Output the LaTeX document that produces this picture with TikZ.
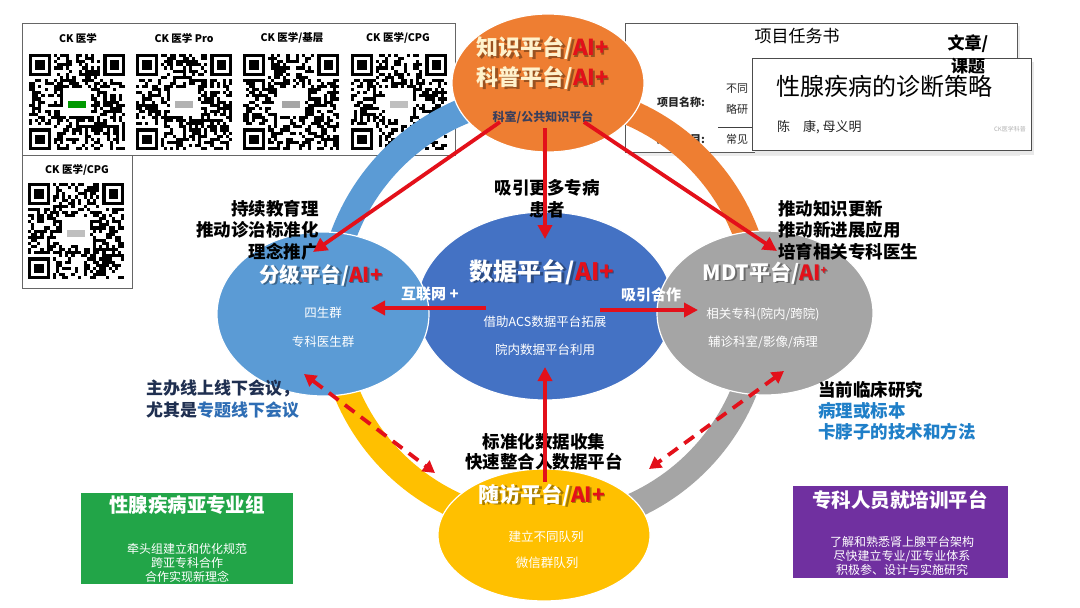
\documentclass[tikz,border=0pt]{standalone}
\usepackage{fontspec}
\setmainfont{Noto Sans CJK SC}
\usetikzlibrary{arrows.meta,calc,shapes.geometric}
\definecolor{ared}{HTML}{E3101A}
\definecolor{korange}{HTML}{EE7E32}
\definecolor{kcream}{HTML}{FFF2CC}
\definecolor{klblue}{HTML}{5B9BD5}
\definecolor{kdblue}{HTML}{4472C4}
\definecolor{kgray}{HTML}{A5A5A5}
\definecolor{kyellow}{HTML}{FFC000}
\definecolor{kgreen}{HTML}{22A548}
\definecolor{kpurple}{HTML}{7030A0}
\definecolor{knavy}{HTML}{1F2F50}
\definecolor{ktblue}{HTML}{2E6DB4}
\definecolor{ktblue2}{HTML}{1F7FC8}
\definecolor{kdarktxt}{HTML}{3A3F5C}

\newcommand\qrblock[4]{% x, y (top-left), seed, logo colour
  \begin{scope}[shift={(#1,#2)}]
    \pgfmathsetseed{#3}
    \foreach \i in {0,...,30}{\foreach \j in {0,...,30}{%
      \pgfmathrandominteger{\rr}{0}{1}%
      \ifnum\rr=1 \fill[black] (\i*3.1,\j*3.1) rectangle ++(3.1,3.1);\fi
    }}
    \foreach \a/\b in {0/0,24/0,0/24}{%
      \fill[white] ({(\a-1)*3.1},{(\b-1)*3.1}) rectangle ++(9*3.1,9*3.1);
      \fill[black] ({\a*3.1},{\b*3.1}) rectangle ++(7*3.1,7*3.1);
      \fill[white] ({(\a+1)*3.1},{(\b+1)*3.1}) rectangle ++(5*3.1,5*3.1);
      \fill[black] ({(\a+2)*3.1},{(\b+2)*3.1}) rectangle ++(3*3.1,3*3.1);
    }
    \fill[white] (11*3.1,11*3.1) rectangle ++(9*3.1,9*3.1);
    \fill[#4] (12.5*3.1,15*3.1) rectangle ++(6*3.1,2.5*3.1);
  \end{scope}
}

\newcommand\ptitle[6]{% name, x, y, text, size, colour
  \node[font=\bfseries\fontsize{#5}{#5}\selectfont, text=black, opacity=.35, inner sep=0] (#1s) at (#2+1.6,#3+1.6) {#4/AI+};
  \node[font=\bfseries\fontsize{#5}{#5}\selectfont, inner sep=0] (#1) at (#2,#3) {\textcolor{#6}{#4/}\textcolor{ared}{AI+}};
}

\begin{document}
\begin{tikzpicture}[x=1pt,y=-1pt,
  qrlabel/.style={font=\bfseries\fontsize{10.5}{12}\selectfont, inner sep=0},
  plat/.style={ellipse, draw=white, line width=1.2, inner sep=0},
  sm/.style={font=\fontsize{12.5}{15}\selectfont, text=white, inner sep=0},
  lbl/.style={font=\bfseries\fontsize{17.5}{21.5}\selectfont, inner sep=0},
  redarr/.style={draw=ared, line width=3.8, -{Triangle[length=14pt,width=14pt]}},
  dasharr/.style={draw=ared, line width=3.8, dash pattern=on 12pt off 8pt,
     {Triangle[length=12pt,width=13pt]}-{Triangle[length=12pt,width=13pt]}},
  boxtitle/.style={font=\bfseries\fontsize{19.5}{22}\selectfont, text=white, inner sep=0},
  boxbody/.style={font=\fontsize{12}{13.6}\selectfont, text=white, align=center, inner sep=0}
]
\useasboundingbox (0,0) rectangle (1080,608);
\fill[white] (0,0) rectangle (1080,608);

% ---------- QR panels ----------
\node[draw=gray!80!black, line width=1, minimum width=433, minimum height=132, inner sep=0] (qrpanel) at (238.5,89) {};
\node[draw=gray!80!black, line width=1, minimum width=110, minimum height=133, inner sep=0] (qrpanel2) at (77,221.5) {};
\node[qrlabel] (q1l) at (78,38) {CK 医学};
\node[qrlabel] (q2l) at (184,38) {CK 医学 Pro};
\node[qrlabel] (q3l) at (292,38) {CK 医学/基层};
\node[qrlabel] (q4l) at (398,38) {CK 医学/CPG};
\node[qrlabel] (q5l) at (77,170) {CK 医学/CPG};
\qrblock{29}{54}{11}{green!60!black}
\qrblock{136}{54}{23}{gray!60}
\qrblock{243}{54}{37}{gray!70}
\qrblock{351}{54}{41}{gray!50}
\qrblock{28}{183}{53}{gray!50}

% ---------- documents ----------
\fill[gray!15] (628,26) rectangle (1020,156);
\node[draw=gray!70!black, fill=white, line width=0.8, minimum width=392, minimum height=129, inner sep=0] (docback) at (821,87.5) {};
\node[font=\fontsize{17}{20}\selectfont, inner sep=0] (doctitle) at (797,36) {项目任务书};
\node[font=\bfseries\fontsize{11}{13}\selectfont, text=gray!30!black, inner sep=0] (pname) at (681,102) {项目名称:};
\node[font=\fontsize{11}{13}\selectfont, text=gray!30!black, inner sep=0] (pn1) at (737,89) {不同};
\node[font=\fontsize{11}{13}\selectfont, text=gray!30!black, inner sep=0] (pn2) at (737,109) {略研};
\draw[gray!50!black, line width=0.7] (718,127) -- (752,127);
\node[font=\bfseries\fontsize{11}{13}\selectfont, text=gray!30!black, inner sep=0] (pbelong) at (681,139) {所属项目:};
\node[font=\fontsize{11}{13}\selectfont, text=gray!30!black, inner sep=0] (pb1) at (737,139) {常见};
\fill[gray!18] (755,62) rectangle (1034,155);
\node[draw=gray!60!black, fill=white, line width=0.8, minimum width=279, minimum height=92, inner sep=0] (card) at (891.5,104) {};
\node[font=\fontsize{24}{28}\selectfont, anchor=west, inner sep=0] (cardtitle) at (776,86) {性腺疾病的诊断策略};
\node[font=\fontsize{13}{15}\selectfont, text=gray!30!black, anchor=west, inner sep=0] (cardauth) at (777,127) {陈\quad 康, 母义明};
\node[font=\fontsize{6}{7}\selectfont, text=gray!60, inner sep=0] (wm) at (1010,129) {CK医学科普};
\node[font=\bfseries\fontsize{17}{23}\selectfont, align=center, inner sep=0] (wz) at (968,54) {文章/\\课题};

% ---------- ring ----------
\draw[line width=26, klblue] plot[domain=175:272, samples=50] ({545+215*cos(\x)},{310+215*sin(\x)});
\draw[line width=26, korange] plot[domain=268:362, samples=50] ({545+215*cos(\x)},{310+215*sin(\x)});
\draw[line width=26, kgray] plot[domain=-2:92, samples=50] ({545+215*cos(\x)},{310+215*sin(\x)});
\draw[line width=26, kyellow] plot[domain=88:182, samples=50] ({545+215*cos(\x)},{310+215*sin(\x)});

% ---------- platforms ----------
\node[plat, fill=korange, minimum width=192, minimum height=138] (know) at (548,83) {};
\node[plat, fill=kdblue, minimum width=256, minimum height=188] (data) at (545,306) {};
\node[plat, fill=klblue, minimum width=212, minimum height=164] (grade) at (323,314) {};
\node[plat, fill=kgray, minimum width=216, minimum height=164] (mdt) at (765,313) {};
\node[plat, fill=kyellow, minimum width=212, minimum height=132] (follow) at (544,535) {};

% titles
\ptitle{knowt1}{543}{48}{知识平台}{22}{kcream}
\ptitle{knowt2}{543}{78}{科普平台}{22}{kcream}
\node[font=\bfseries\fontsize{12}{14}\selectfont, text=kdarktxt, inner sep=0] (knowsub) at (543,117) {科室/公共知识平台};
\ptitle{datat}{542}{272}{数据平台}{24}{white}
\ptitle{gradet}{321}{275}{分级平台}{20.5}{white}
\ptitle{followt}{542}{495}{随访平台}{21}{white}
\node[font=\bfseries\fontsize{21}{21}\selectfont, text=black, opacity=.35, inner sep=0] (mdtts) at (766.6,274.6) {MDT平台/AI\raisebox{.55ex}{\fontsize{11}{11}\selectfont+}};
\node[font=\bfseries\fontsize{21}{21}\selectfont, inner sep=0] (mdtt) at (765,273) {\textcolor{white}{MDT平台/}\textcolor{ared}{AI\raisebox{.55ex}{\fontsize{11}{11}\selectfont+}}};

% inner texts
\node[sm] (g1) at (323,313) {四生群};
\node[sm] (g2) at (323,342) {专科医生群};
\node[sm] (d1) at (545,322) {借助ACS数据平台拓展};
\node[sm] (d2) at (545,350) {院内数据平台利用};
\node[sm] (m1) at (763,314) {相关专科(院内/跨院)};
\node[sm] (m2) at (763,342) {辅诊科室/影像/病理};
\node[sm] (f1) at (546,537) {建立不同队列};
\node[sm] (f2) at (547,563) {微信群队列};
\node[font=\bfseries\fontsize{15}{17}\selectfont, text=white, inner sep=0] (hlw) at (430,294) {互联网 +};
\node[font=\bfseries\fontsize{15}{17}\selectfont, text=white, inner sep=0] (xyhz) at (651,295) {吸引合作};

% ---------- labels ----------
\node[lbl, align=right, anchor=east] (lefttxt) at (319,230) {持续教育理\\推动诊治标准化\\理念推广};
\node[lbl, align=left, anchor=west] (righttxt) at (778,230) {推动知识更新\\推动新进展应用\\培育相关专科医生};
\node[lbl, align=center, font=\bfseries\fontsize{17.5}{22}\selectfont] (toptxt) at (547,199) {吸引更多专病\\患者};
\node[lbl, align=center, font=\bfseries\fontsize{17.5}{20.5}\selectfont] (bottxt) at (544,452) {标准化数据收集\\快速整合入数据平台};
\node[lbl, align=left, anchor=west, text=knavy, font=\bfseries\fontsize{17}{22}\selectfont] (lbtxt) at (146,399) {主办线上线下会议，\\尤其是\textcolor{ktblue}{专题线下会议}};
\node[lbl, align=left, anchor=west, font=\bfseries\fontsize{17.5}{21}\selectfont] (rbtxt) at (818,411) {当前临床研究\\\textcolor{ktblue2}{病理或标本}\\\textcolor{ktblue2}{卡脖子的技术和方法}};

% ---------- arrows ----------
\coordinate (sA) at (500,122);
\coordinate (tA) at (313,252);
\coordinate (sB) at (545,128);
\coordinate (tB) at (545,239);
\coordinate (sC) at (584,122);
\coordinate (tC) at (777,251);
\coordinate (sD) at (486,308);
\coordinate (tD) at (371,308);
\coordinate (sE) at (600,310);
\coordinate (tE) at (698,310);
\coordinate (sF) at (545,482);
\coordinate (tF) at (545,367);
\coordinate (lu) at (304,374);
\coordinate (ld) at (435,473);
\coordinate (ru) at (784,371);
\coordinate (rd) at (649,469);
\draw[redarr] (sA) -- (tA);
\draw[redarr] (sB) -- (tB);
\draw[redarr] (sC) -- (tC);
\draw[redarr] (sD) -- (tD);
\draw[redarr] (sE) -- (tE);
\draw[redarr] (sF) -- (tF);
\draw[dasharr] (lu) -- (ld);
\draw[dasharr] (ru) -- (rd);

% ---------- bottom boxes ----------
\node[fill=kgreen, minimum width=212, minimum height=91, inner sep=0] (gbox) at (187,538.5) {};
\node[boxtitle] (gboxt) at (187,505) {性腺疾病亚专业组};
\node[boxbody] (gboxb) at (187,563) {牵头组建立和优化规范\\跨亚专科合作\\合作实现新理念};
\node[fill=kpurple, minimum width=215, minimum height=92, inner sep=0] (pbox) at (900.5,532) {};
\node[boxtitle] (pboxt) at (900,500) {专科人员就培训平台};
\node[boxbody] (pboxb) at (902,556) {了解和熟悉肾上腺平台架构\\尽快建立专业/亚专业体系\\积极参、设计与实施研究};
\end{tikzpicture}
\end{document}
